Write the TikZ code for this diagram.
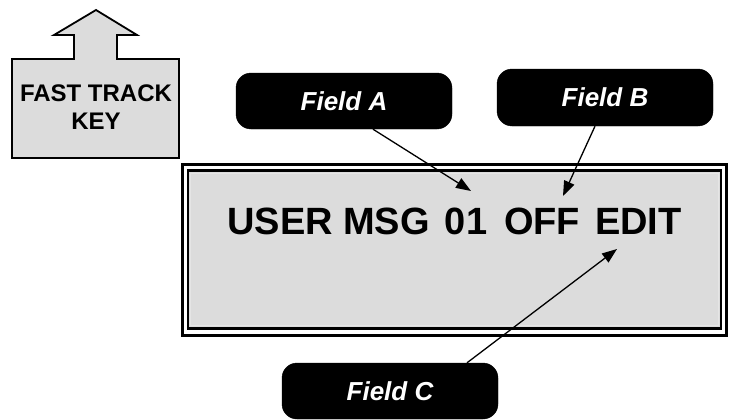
\documentclass[tikz,border=0pt]{standalone}
\usepackage{fontspec}
\setmainfont{Liberation Sans}
\usetikzlibrary{arrows.meta}
\definecolor{lcdgray}{HTML}{DCDCDC}
\tikzset{
  fieldbox/.style={draw=black, fill=black, rounded corners=15pt, minimum width=216pt, minimum height=56pt, inner sep=0pt,
    text=white, font=\fontsize{26}{30}\selectfont\bfseries\itshape},
  callout/.style={line width=1.3pt, -{Triangle[length=15pt,width=11pt]}},
}
\begin{document}
\begin{tikzpicture}[x=1pt,y=-1pt]
\useasboundingbox (0,0) rectangle (733,420);
% fast track key
\draw[line width=1.8pt, fill=lcdgray, line join=miter]
  (12,158) -- (12,59) -- (74,59) -- (74,35) -- (54,35) -- (96,10) -- (137,35) -- (117,35) -- (117,59) -- (179,59) -- (179,158) -- cycle;
\node[align=center, inner sep=0pt, font=\fontsize{24}{28}\selectfont\bfseries] (ftk) at (96,107) {FAST TRACK\\KEY};
% display
\node[draw, line width=3pt, minimum width=544pt, minimum height=171pt, inner sep=0pt] (dispout) at (454.5,250) {};
\node[draw, line width=2.5pt, fill=lcdgray, minimum width=533pt, minimum height=158pt, inner sep=0pt] (dispin) at (454.5,249.5) {};
\draw[white!90!black, line width=0.8pt] (190.8,173.2) rectangle (718.2,325.8);
\node[anchor=base, inner sep=0pt, font=\fontsize{38}{44}\selectfont\bfseries] (msg) at (454.5,234.5)
  {USER MSG\hspace{15pt}01\hspace{17pt}OFF\hspace{15pt}EDIT};
% field labels
\node[fieldbox] (fa) at (344,101) {Field A};
\node[fieldbox, minimum height=57pt] (fb) at (605,97.5) {Field B};
\node[fieldbox] (fc) at (390,391) {Field C};
\coordinate (ta) at (471,191);
\coordinate (tb) at (563,196);
\coordinate (tc) at (617,249);
\draw[callout] ([xshift=29pt]fa.south) -- (ta);
\draw[callout] ([xshift=-10pt]fb.south) -- (tb);
\draw[callout] ([xshift=77pt]fc.north) -- (tc);
\end{tikzpicture}
\end{document}
